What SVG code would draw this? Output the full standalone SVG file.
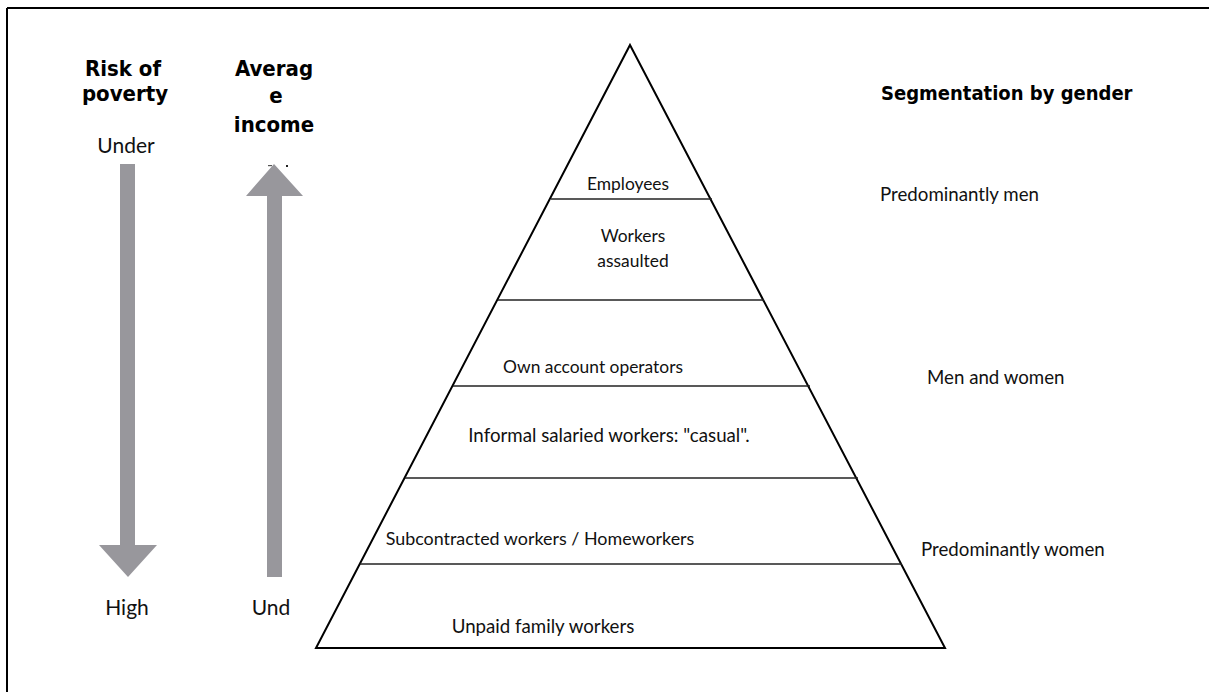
<svg xmlns="http://www.w3.org/2000/svg" width="1209" height="692" viewBox="0 0 1209 692">
  <style>
    .head { font-family: "DejaVu Sans Condensed", "DejaVu Sans", sans-serif; font-weight: bold; font-size: 20px; fill: #000; }
    .head-l { font-size: 22px; }
    .lbl { font-family: Lato, "Open Sans", sans-serif; font-size: 18.7px; fill: #111; }
    .sm { font-size: 17.4px; }
    .big { font-family: Lato, "Open Sans", sans-serif; font-size: 21px; fill: #111; }
    .mid { text-anchor: middle; }
    .side { fill: none; stroke: #000; stroke-width: 2; stroke-linejoin: miter; }
    .tier { stroke: #222; stroke-width: 1.5; }
    .shaft { fill: #98979c; }
  </style>

  <rect width="1209" height="692" fill="#fff"/>

  <!-- frame: top and left rules -->
  <g id="frame" stroke="#000" stroke-width="2">
    <line x1="7" y1="8" x2="1209" y2="8"/>
    <line x1="7" y1="8" x2="7" y2="692"/>
  </g>

  <!-- left column: risk of poverty -->
  <g id="risk-of-poverty">
    <text class="head head-l mid" x="123" y="76">Risk of</text>
    <text class="head head-l mid" x="125" y="101">poverty</text>
    <text class="big mid" x="126" y="153">Under</text>
    <text class="big mid" x="127" y="615">High</text>
  </g>

  <!-- second column: average income -->
  <g id="average-income">
    <text class="head head-l mid" x="274" y="76">Averag</text>
    <text class="head head-l mid" x="276" y="103">e</text>
    <text class="head head-l mid" x="274" y="132">income</text>
    <text class="big mid" x="271" y="615">Und</text>
  </g>

  <!-- pyramid outline -->
  <g id="pyramid">
    <polygon class="side" points="630,45 945,648 316,648"/>
  </g>

  <!-- tiers -->
  <g id="employees">
    <line class="tier" x1="551" y1="199" x2="712" y2="199"/>
    <text class="lbl sm mid" x="628" y="190">Employees</text>
  </g>
  <g id="workers-assaulted">
    <line class="tier" x1="498" y1="300" x2="764" y2="300"/>
    <text class="lbl sm mid" x="633" y="242">Workers</text>
    <text class="lbl sm mid" x="633" y="267">assaulted</text>
  </g>
  <g id="own-account-operators">
    <line class="tier" x1="453" y1="386" x2="810" y2="386"/>
    <text class="lbl sm mid" x="593" y="373">Own account operators</text>
  </g>
  <g id="informal-salaried">
    <line class="tier" x1="405" y1="478" x2="858" y2="478"/>
    <text class="lbl mid" x="609" y="442">Informal salaried workers: "casual".</text>
  </g>
  <g id="subcontracted">
    <line class="tier" x1="360" y1="564" x2="902" y2="564"/>
    <text class="lbl mid" x="540" y="545" style="font-size:17.9px">Subcontracted workers / Homeworkers</text>
  </g>
  <g id="unpaid-family">
    <text class="lbl mid" x="543" y="633">Unpaid family workers</text>
  </g>

  <!-- right column: segmentation by gender -->
  <g id="segmentation">
    <text class="head" x="881" y="100">Segmentation by gender</text>
    <text class="lbl" x="880" y="201">Predominantly men</text>
    <text class="lbl" x="927" y="384">Men and women</text>
    <text class="lbl" x="921" y="556">Predominantly women</text>
  </g>

  <!-- connectors: block arrows -->
  <g id="connectors">
    <polygon class="shaft" points="120,164 135,164 135,545 157,545 128,577 99,545 120,545"/>
    <polygon class="shaft" points="274,164 303,196 282,196 282,577 267,577 267,196 246,196"/>
    <rect x="268" y="165" width="4" height="1.2" fill="#555"/>
    <rect x="286" y="165" width="2" height="2" fill="#222"/>
  </g>
</svg>
